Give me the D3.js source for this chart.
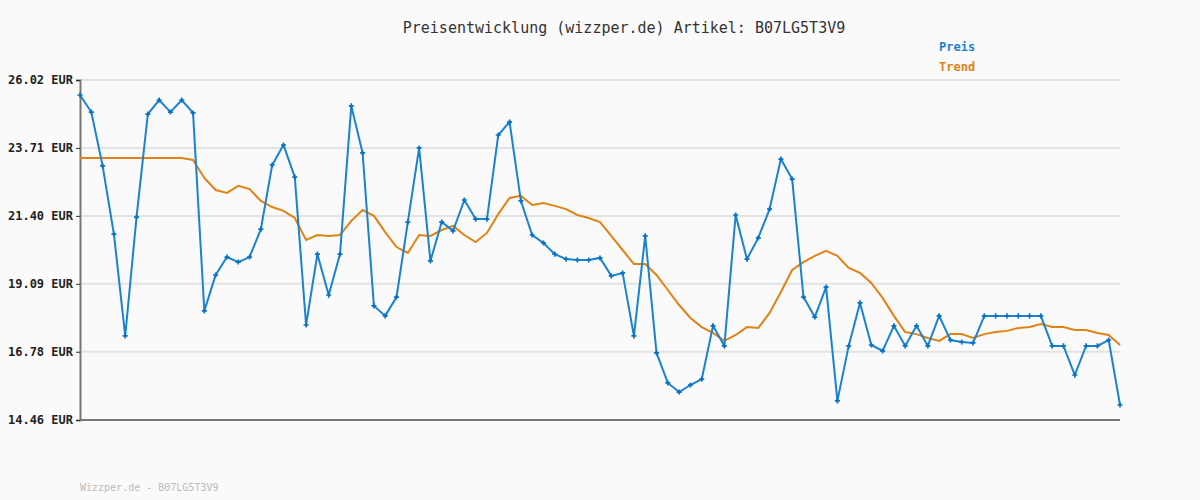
<!DOCTYPE html><html><head><meta charset="utf-8">
<script src="https://cdn.jsdelivr.net/npm/d3@7"></script>
<style>body{margin:0;background:#fafafa}svg{display:block}text{font-family:"DejaVu Sans Mono",monospace}</style></head><body>
<svg id="c" width="1200" height="500"></svg>
<script>
const title="Preisentwicklung (wizzper.de) Artikel: B07LG5T3V9";
const footer="Wizzper.de - B07LG5T3V9";
const yTicks=[14.46,16.78,19.09,21.40,23.71,26.02];
const preis=[25.51,24.93,23.10,20.78,17.32,21.36,24.86,25.34,24.93,25.34,24.90,18.17,19.39,20.00,19.83,20.00,20.95,23.13,23.81,22.72,17.69,20.10,18.71,20.10,25.14,23.54,18.34,18.00,18.64,21.19,23.71,19.87,21.19,20.89,21.94,21.29,21.29,24.15,24.59,21.91,20.75,20.48,20.10,19.93,19.90,19.90,19.97,19.36,19.46,17.32,20.72,16.74,15.72,15.41,15.65,15.85,17.66,16.98,21.43,19.93,20.65,21.63,23.33,22.65,18.64,17.96,18.98,15.11,16.98,18.44,17.01,16.81,17.66,16.98,17.66,16.98,18.00,17.18,17.11,17.08,18.00,18.00,18.00,18.00,18.00,18.00,16.98,16.98,15.99,16.98,16.98,17.18,14.97];
const trend=[23.37,23.37,23.37,23.37,23.37,23.37,23.37,23.37,23.37,23.37,23.30,22.69,22.28,22.18,22.42,22.31,21.91,21.70,21.57,21.33,20.58,20.75,20.72,20.75,21.23,21.60,21.40,20.85,20.34,20.14,20.75,20.72,20.92,21.06,20.75,20.51,20.82,21.46,22.01,22.08,21.77,21.84,21.74,21.63,21.43,21.33,21.19,20.72,20.24,19.76,19.76,19.39,18.88,18.37,17.93,17.62,17.42,17.15,17.35,17.62,17.59,18.10,18.81,19.56,19.83,20.04,20.21,20.04,19.63,19.46,19.12,18.61,18.00,17.45,17.38,17.25,17.15,17.38,17.38,17.25,17.38,17.45,17.49,17.59,17.62,17.72,17.62,17.62,17.52,17.52,17.42,17.35,17.01];
const svg=d3.select("#c");
const x=d3.scaleLinear().domain([0,preis.length-1]).range([80,1120]);
const y=d3.scaleLinear().domain([14.46,26.02]).range([420,80]);
svg.append("g").selectAll("line").data(yTicks).join("line")
 .attr("x1",80).attr("x2",1120).attr("y1",d=>y(d)).attr("y2",d=>y(d)).attr("stroke","#e3e3e3").attr("stroke-width",2);
const ax=svg.append("g").attr("transform","translate(80,0)").call(d3.axisLeft(y).tickValues(yTicks).tickFormat(d=>d.toFixed(2)+" EUR").tickSize(4).tickPadding(3));
ax.select(".domain").attr("stroke","#777").attr("stroke-width",2);
ax.selectAll("text").attr("font-size",12).attr("fill","#222").style("font-weight","bold");
ax.selectAll(".tick line").attr("stroke","#333");
svg.append("line").attr("x1",80).attr("x2",1120).attr("y1",420).attr("y2",420).attr("stroke","#777").attr("stroke-width",2);
const line=d3.line().x((d,i)=>x(i)).y(d=>y(d));
svg.append("path").datum(trend).attr("d",line).attr("fill","none").attr("stroke","#e08214").attr("stroke-width",2);
svg.append("path").datum(preis).attr("d",line).attr("fill","none").attr("stroke","#1a83cf").attr("stroke-width",2);
svg.append("g").selectAll("path").data(preis).join("path")
 .attr("d",d3.symbol(d3.symbolCross,14)).attr("transform",(d,i)=>`translate(${x(i)},${y(d)})`).attr("fill","#0a70c0");
svg.append("text").attr("x",624).attr("y",33).attr("text-anchor","middle").attr("font-size",15).attr("fill","#333").text(title);
svg.append("text").attr("x",939).attr("y",51).attr("font-size",12).attr("font-weight","bold").attr("fill","#1a83cf").text("Preis");
svg.append("text").attr("x",939).attr("y",71).attr("font-size",12).attr("font-weight","bold").attr("fill","#e08214").text("Trend");
svg.append("text").attr("x",80).attr("y",491).attr("font-size",10).attr("fill","#bbb").text(footer);
</script></body></html>
